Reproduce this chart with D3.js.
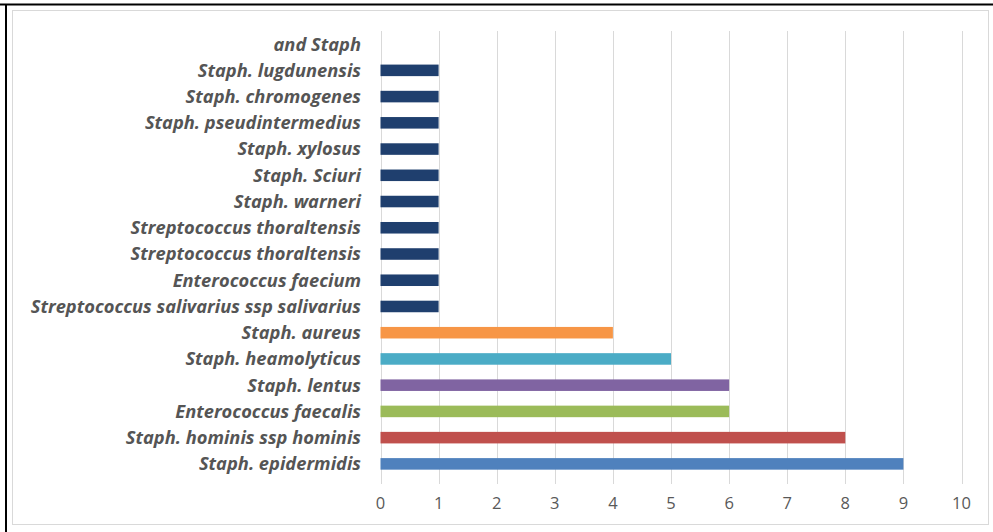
<!DOCTYPE html>
<html>
<head>
<meta charset="utf-8">
<script src="https://cdn.jsdelivr.net/npm/d3@7"></script>
<style>
  html, body { margin: 0; padding: 0; background: #fff; }
  svg { display: block; }
</style>
</head>
<body>
<svg id="chart" width="993" height="532"></svg>
<script>
// Isolates, listed top to bottom
const categories = [
  "and Staph",
  "Staph. lugdunensis",
  "Staph. chromogenes",
  "Staph. pseudintermedius",
  "Staph. xylosus",
  "Staph. Sciuri",
  "Staph. warneri",
  "Streptococcus thoraltensis",
  "Streptococcus thoraltensis",
  "Enterococcus faecium",
  "Streptococcus salivarius ssp salivarius",
  "Staph. aureus",
  "Staph. heamolyticus",
  "Staph. lentus",
  "Enterococcus faecalis",
  "Staph. hominis ssp hominis",
  "Staph. epidermidis"
];
const counts = [0, 1, 1, 1, 1, 1, 1, 1, 1, 1, 1, 4, 5, 6, 6, 8, 9];
const barColors = [
  "#1f3f6e", "#1f3f6e", "#1f3f6e", "#1f3f6e", "#1f3f6e", "#1f3f6e",
  "#1f3f6e", "#1f3f6e", "#1f3f6e", "#1f3f6e", "#1f3f6e",
  "#f79646", "#4bacc6", "#8064a2", "#9bbb59", "#c0504d", "#4f81bd"
];
const xTicks = [0, 1, 2, 3, 4, 5, 6, 7, 8, 9, 10];

const svg = d3.select("#chart");

// outer frame
svg.append("line").attr("x1", 0).attr("x2", 993).attr("y1", 4.5).attr("y2", 4.5)
  .attr("stroke", "#000").attr("stroke-width", 2);
svg.append("line").attr("x1", 6).attr("x2", 6).attr("y1", 4).attr("y2", 532)
  .attr("stroke", "#000").attr("stroke-width", 2);
svg.append("rect").attr("x", 12.5).attr("y", 10.5).attr("width", 976).attr("height", 514)
  .attr("fill", "none").attr("stroke", "#d9d9d9").attr("stroke-width", 1);

const x = d3.scaleLinear().domain([0, 10]).range([380.5, 961.5]);
const y = d3.scaleBand().domain(d3.range(categories.length)).range([31, 477]).paddingInner(0.56).paddingOuter(0.28);

// vertical gridlines
svg.append("g")
  .selectAll("line")
  .data(xTicks)
  .join("line")
  .attr("x1", d => Math.round(x(d)) + 0.5)
  .attr("x2", d => Math.round(x(d)) + 0.5)
  .attr("y1", 31)
  .attr("y2", 484)
  .attr("stroke", "#d9d9d9")
  .attr("stroke-width", 1);

// bars
svg.append("g")
  .selectAll("rect")
  .data(counts)
  .join("rect")
  .attr("x", x(0))
  .attr("y", (d, i) => y(i))
  .attr("width", d => x(d) - x(0))
  .attr("height", y.bandwidth())
  .attr("fill", (d, i) => barColors[i]);

// category labels
svg.append("g")
  .selectAll("text")
  .data(categories)
  .join("text")
  .attr("x", 361)
  .attr("y", (d, i) => y(i) + y.bandwidth() / 2)
  .attr("dy", "0.35em")
  .attr("text-anchor", "end")
  .attr("font-family", "'Open Sans', Lato, sans-serif")
  .attr("font-size", 18.3)
  .attr("font-weight", "bold")
  .attr("font-style", "italic")
  .attr("fill", "#555555")
  .text(d => d);

// value axis labels
svg.append("g")
  .selectAll("text")
  .data(xTicks)
  .join("text")
  .attr("x", d => x(d))
  .attr("y", 503)
  .attr("dy", "0.35em")
  .attr("text-anchor", "middle")
  .attr("font-family", "'Open Sans', Lato, sans-serif")
  .attr("font-size", 16.5)
  .attr("fill", "#595959")
  .text(d => d);
</script>
</body>
</html>
